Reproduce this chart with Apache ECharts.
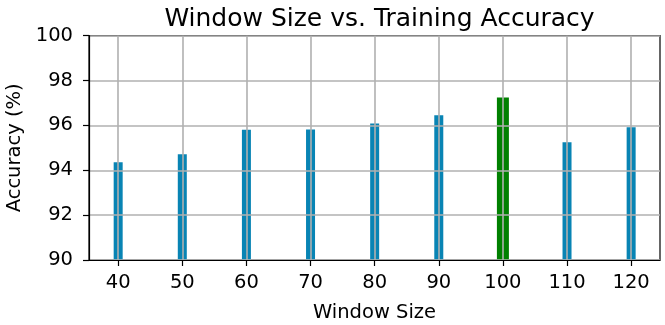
<!DOCTYPE html>
<html>
<head>
<meta charset="utf-8">
<script src="https://cdn.jsdelivr.net/npm/echarts@6/dist/echarts.min.js"></script>
<style>html,body{margin:0;padding:0;background:#fff}#c{width:665px;height:325px}</style>
</head>
<body>
<div id="c"></div>
<script>
const windowSizes = [40, 50, 60, 70, 80, 90, 100, 110, 120];
const accuracies = [94.36, 94.71, 95.81, 95.82, 96.09, 96.45, 97.25, 95.25, 95.92];
const bestWindow = 100;
const yTicks = [90, 92, 94, 96, 98, 100];

const blueData = [], greenData = [];
windowSizes.forEach((w, i) => {
  (w === bestWindow ? greenData : blueData).push([w, accuracies[i]]);
});

const font = 'DejaVu Sans';
const chart = echarts.init(document.getElementById('c'), null, {renderer: 'canvas'});
const xCommon = {
  type: 'value', min: 35.45, max: 124.5, gridIndex: 0
};
chart.setOption({
  animation: false,
  title: {
    text: 'Window Size vs. Training Accuracy',
    left: 374.5, top: 2, textAlign: 'center',
    textStyle: {fontFamily: font, fontSize: 25, fontWeight: 'normal', color: '#000'}
  },
  grid: {left: 89, right: 5, top: 35.7, bottom: 65, outerBoundsMode: 'none', containLabel: false,
    show: true, borderColor: '#000', borderWidth: 1.2, backgroundColor: 'transparent'},
  xAxis: [
    Object.assign({}, xCommon, {
      z: 5,
      name: 'Window Size', nameLocation: 'middle', nameGap: 43,
      nameTextStyle: {fontFamily: font, fontSize: 19.5, color: '#000'},
      axisLine: {show: true, lineStyle: {color: '#000', width: 1.2}},
      axisTick: {show: true, length: 6, lineStyle: {color: '#000', width: 1.2}, customValues: windowSizes},
      axisLabel: {fontFamily: font, fontSize: 19.5, color: '#000', margin: 13, customValues: windowSizes},
      splitLine: {show: false}
    }),
    Object.assign({}, xCommon, {show: false})
  ],
  yAxis: {
    type: 'value', min: yTicks[0], max: yTicks[yTicks.length - 1], interval: 2, z: 5,
    name: 'Accuracy (%)', nameLocation: 'middle', nameGap: 60,
    nameTextStyle: {fontFamily: font, fontSize: 19.5, color: '#000'},
    axisLine: {show: true, lineStyle: {color: '#000', width: 1.2}},
    axisTick: {show: true, length: 6, lineStyle: {color: '#000', width: 1.2}},
    axisLabel: {fontFamily: font, fontSize: 19.5, color: '#000', margin: 16},
    splitLine: {show: true, lineStyle: {color: '#b0b0b0', width: 1.6}}
  },
  series: [
    {
      type: 'bar', xAxisIndex: 0, data: blueData, barWidth: 9,
      itemStyle: {color: '#0884b4'},
      z: 2,
      markLine: {
        silent: true, symbol: 'none', label: {show: false}, z: 4,
        lineStyle: {color: '#b0b0b0', width: 1.6, type: 'solid'},
        data: windowSizes.map(w => ({xAxis: w}))
      }
    },
    {
      type: 'bar', xAxisIndex: 1, data: greenData, barWidth: 12,
      itemStyle: {color: '#008000'}, z: 2
    }
  ]
});
</script>
</body>
</html>
